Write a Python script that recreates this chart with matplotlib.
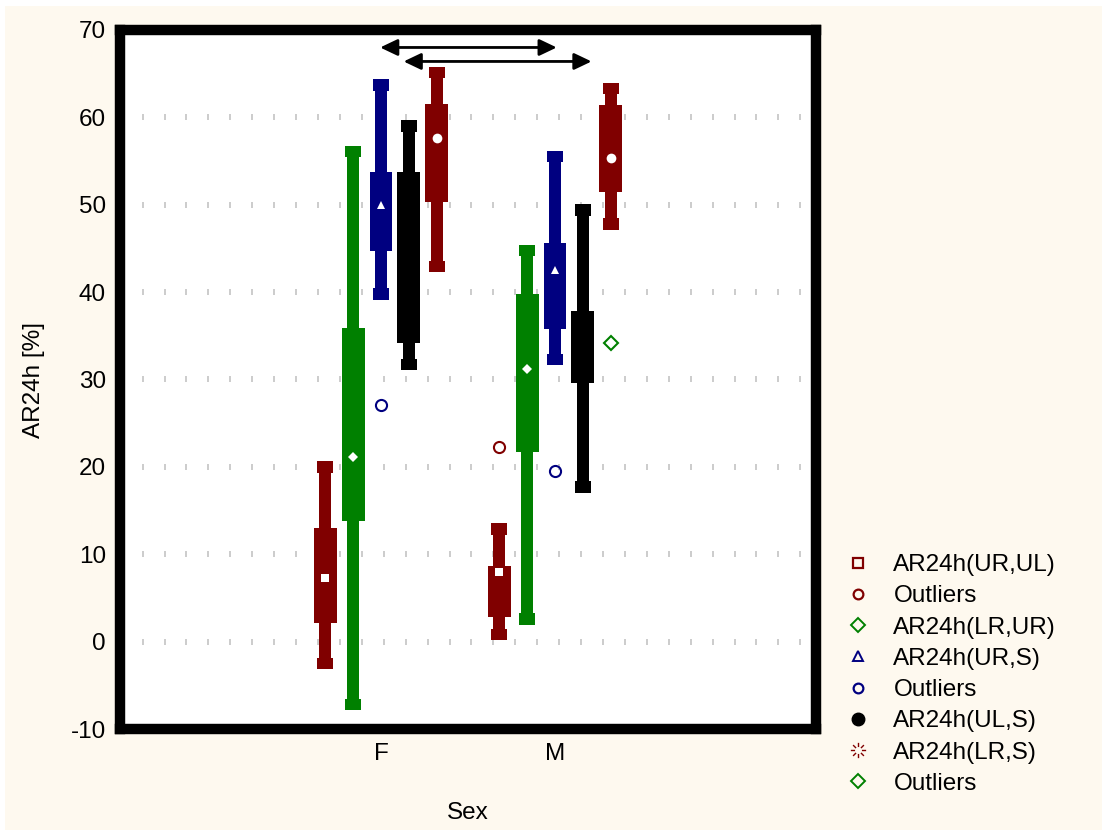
import numpy as np
import matplotlib
matplotlib.use("Agg")
import matplotlib.pyplot as plt
from matplotlib.lines import Line2D
from matplotlib.patches import Rectangle
from matplotlib.path import Path

plt.rcParams['font.family'] = ['Liberation Sans', 'DejaVu Sans']
plt.rcParams['axes.unicode_minus'] = False

# Categories and series
categories = ["F", "M"]
series_names = ["AR24h(UR,UL)", "AR24h(LR,UR)", "AR24h(UR,S)", "AR24h(UL,S)", "AR24h(LR,S)"]
series_colors = ["#800000", "#008000", "#000080", "#000000", "#800000"]

# Box statistics per series: [F, M]
whisker_lo = {
    "AR24h(UR,UL)": [-2.5, 0.8],
    "AR24h(LR,UR)": [-7.2, 2.6],
    "AR24h(UR,S)": [39.8, 32.3],
    "AR24h(UL,S)": [31.7, 17.7],
    "AR24h(LR,S)": [42.9, 47.8],
}
box_lo = {
    "AR24h(UR,UL)": [2.1, 2.8],
    "AR24h(LR,UR)": [13.8, 21.7],
    "AR24h(UR,S)": [44.7, 35.8],
    "AR24h(UL,S)": [34.2, 29.6],
    "AR24h(LR,S)": [50.3, 51.5],
}
median = {
    "AR24h(UR,UL)": [7.3, 8.0],
    "AR24h(LR,UR)": [21.1, 31.2],
    "AR24h(UR,S)": [50.0, 42.5],
    "AR24h(UL,S)": [44.0, 33.5],
    "AR24h(LR,S)": [57.6, 55.3],
}
box_hi = {
    "AR24h(UR,UL)": [13.0, 8.6],
    "AR24h(LR,UR)": [35.9, 39.8],
    "AR24h(UR,S)": [53.8, 45.6],
    "AR24h(UL,S)": [53.8, 37.8],
    "AR24h(LR,S)": [61.5, 61.4],
}
whisker_hi = {
    "AR24h(UR,UL)": [20.0, 12.9],
    "AR24h(LR,UR)": [56.1, 44.8],
    "AR24h(UR,S)": [63.7, 55.5],
    "AR24h(UL,S)": [59.0, 49.4],
    "AR24h(LR,S)": [65.1, 63.3],
}

# Outliers: (category, series column, value)
outliers_red = [("M", "AR24h(UR,UL)", 22.3)]
outliers_blue = [("F", "AR24h(UR,S)", 27.1), ("M", "AR24h(UR,S)", 19.5)]
outliers_green = [("M", "AR24h(LR,S)", 34.2)]

# Comparison arrows: (x start, x end, y)
arrows = [(0.995, 2.01, 68.0), (1.13, 2.21, 66.4)]

median_markers = ["s", "D", "^", "o", "o"]
median_colors = ["white", "white", "white", "black", "white"]
median_sizes = [6, 5, 6, 6, 7]
offsets = [-0.32, -0.16, 0.0, 0.16, 0.32]

# Broken starburst marker: eight short rays that leave the centre open
verts, codes = [], []
for a in np.deg2rad(np.arange(0, 360, 45)):
    verts += [(0.45 * np.cos(a), 0.45 * np.sin(a)), (np.cos(a), np.sin(a))]
    codes += [Path.MOVETO, Path.LINETO]
burst = Path(verts, codes)

FS = 17.5

fig = plt.figure(figsize=(11.02, 8.30), dpi=100, facecolor="#FEF9EF")
# thin white margin along the top and left edges
fig.patches.append(Rectangle((0, 1 - 6 / 830), 1, 6 / 830, transform=fig.transFigure,
                             facecolor="white", edgecolor="none", zorder=-10))
fig.patches.append(Rectangle((0, 0), 5 / 1102, 1, transform=fig.transFigure,
                             facecolor="white", edgecolor="none", zorder=-10))
ax = fig.add_axes([120 / 1102, 101 / 830, 696 / 1102, 699 / 830])
ax.set_facecolor("white")

cat_x = {c: i + 1 for i, c in enumerate(categories)}

# Dotted grid made of short vertical dashes
grid_x = np.arange(-0.37, 3.5, 0.126)
for gy in range(0, 70, 10):
    ax.plot(grid_x, np.full_like(grid_x, gy), linestyle="none", marker="|",
            markersize=5, markeredgewidth=1.3, color="#c8c8c8", zorder=1)

box_w, whisk_w, cap_w, cap_h = 0.132, 0.068, 0.092, 1.3

for k, name in enumerate(series_names):
    col = series_colors[k]
    for ci, c in enumerate(categories):
        x = cat_x[c] + offsets[k]
        lo, hi = whisker_lo[name][ci], whisker_hi[name][ci]
        ax.bar(x, hi - lo, bottom=lo, width=whisk_w, color=col, zorder=2, linewidth=0)
        ax.bar(x, box_hi[name][ci] - box_lo[name][ci], bottom=box_lo[name][ci],
               width=box_w, color=col, zorder=3, linewidth=0)
        for end in (lo, hi):
            ax.bar(x, cap_h, bottom=end - cap_h / 2, width=cap_w, color=col,
                   zorder=3, linewidth=0)
        ax.plot(x, median[name][ci], marker=median_markers[k], color=median_colors[k],
                markersize=median_sizes[k], markeredgewidth=0, zorder=4)

for group, mk, col in [(outliers_red, "o", "#800000"), (outliers_blue, "o", "#000080"),
                       (outliers_green, "D", "#008000")]:
    xs = [cat_x[c] + offsets[series_names.index(s)] for c, s, _ in group]
    ys = [v for _, _, v in group]
    ax.plot(xs, ys, linestyle="none", marker=mk, markerfacecolor="none",
            markeredgecolor=col, markersize=8 if mk == "o" else 7,
            markeredgewidth=1.5, zorder=4)

for x0, x1, y in arrows:
    ax.annotate("", xy=(x1, y), xytext=(x0, y),
                arrowprops=dict(arrowstyle="<|-|>,head_length=1.05,head_width=0.5",
                                color="black", lw=2, shrinkA=0, shrinkB=0), zorder=5)

ax.set_xlim(-0.5, 3.5)
ax.set_ylim(-10, 70)
ax.set_yticks(range(-10, 71, 10))
ax.set_xticks([cat_x[c] for c in categories])
ax.set_xticklabels(categories)
ax.tick_params(length=0, labelsize=FS, pad=10)
for sp in ax.spines.values():
    sp.set_linewidth(7.5)
    sp.set_color("black")
ax.set_xlabel("Sex", fontsize=FS)
ax.set_ylabel("AR24h [%]", fontsize=FS)
ax.xaxis.set_label_coords(0.5, -0.104)
ax.yaxis.set_label_coords(-0.108, 0.5)

legend_handles = [
    Line2D([], [], linestyle="none", marker="s", markerfacecolor="none", markeredgecolor="#800000", markersize=7, markeredgewidth=1.6),
    Line2D([], [], linestyle="none", marker="o", markerfacecolor="none", markeredgecolor="#800000", markersize=7, markeredgewidth=1.6),
    Line2D([], [], linestyle="none", marker="D", markerfacecolor="none", markeredgecolor="#008000", markersize=7, markeredgewidth=1.4),
    Line2D([], [], linestyle="none", marker="^", markerfacecolor="none", markeredgecolor="#000080", markersize=7, markeredgewidth=1.4),
    Line2D([], [], linestyle="none", marker="o", markerfacecolor="none", markeredgecolor="#000080", markersize=7, markeredgewidth=1.6),
    Line2D([], [], linestyle="none", marker="o", markerfacecolor="black", markeredgecolor="black", markersize=9),
    Line2D([], [], linestyle="none", marker=burst, color="#800000", markersize=11, markeredgewidth=1.0),
    Line2D([], [], linestyle="none", marker="D", markerfacecolor="none", markeredgecolor="#008000", markersize=7, markeredgewidth=1.4),
]
legend_labels = ["AR24h(UR,UL)", "Outliers", "AR24h(LR,UR)", "AR24h(UR,S)", "Outliers",
                 "AR24h(UL,S)", "AR24h(LR,S)", "Outliers"]
fig.legend(legend_handles, legend_labels, loc="upper left",
           bbox_to_anchor=(846 / 1102, 1 - 554 / 830), frameon=False, fontsize=FS,
           handlelength=1.0, handletextpad=0.95, labelspacing=0.38,
           borderpad=0, borderaxespad=0)

fig.savefig("out.png", dpi=100, facecolor=fig.get_facecolor())
